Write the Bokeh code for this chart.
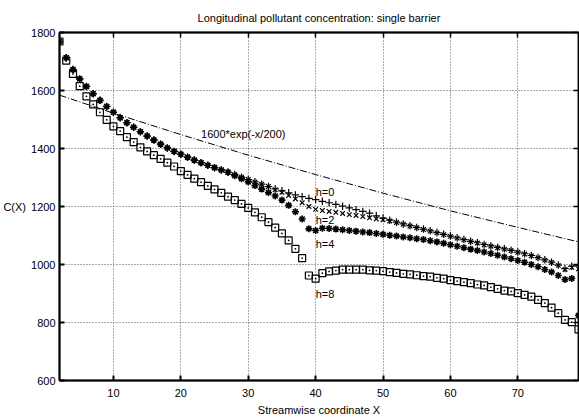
from bokeh.plotting import figure
from bokeh.models import Range1d, FixedTicker, LinearAxis, Label
from bokeh.embed import file_html
from bokeh.resources import INLINE

# ---- data -------------------------------------------------------------
xs = [2, 3, 4, 5, 6, 7, 8, 9, 10, 11, 12, 13, 14, 15, 16, 17, 18, 19, 20,
      21, 22, 23, 24, 25, 26, 27, 28, 29, 30, 31, 32, 33, 34, 35, 36, 37, 38,
      39, 40, 41, 42, 43, 44, 45, 46, 47, 48, 49, 50, 51, 52, 53, 54, 55, 56,
      57, 58, 59, 60, 61, 62, 63, 64, 65, 66, 67, 68, 69, 70, 71, 72, 73, 74,
      75, 76, 77, 78, 79]

h0 = [1769, 1713, 1672, 1640, 1614, 1589, 1566, 1545, 1525, 1506, 1489, 1473,
      1458, 1443, 1429, 1415, 1402, 1390, 1380, 1370, 1360, 1351, 1342, 1334,
      1326, 1318, 1310, 1301, 1293, 1285, 1277, 1269, 1261, 1254, 1247, 1240,
      1234, 1228, 1224, 1218, 1213, 1207, 1201, 1195, 1189, 1183, 1177, 1168,
      1160, 1153, 1146, 1140, 1134, 1128, 1122, 1116, 1110, 1104, 1098, 1092,
      1086, 1080, 1075, 1069, 1064, 1059, 1054, 1049, 1043, 1037, 1031, 1024,
      1016, 1008, 998, 986, 994, 996]

h2 = [1769, 1713, 1672, 1640, 1614, 1589, 1566, 1545, 1525, 1506, 1489, 1473,
      1458, 1443, 1429, 1415, 1402, 1390, 1380, 1370, 1360, 1351, 1342, 1334,
      1326, 1318, 1310, 1301, 1293, 1285, 1277, 1269, 1258, 1249, 1238, 1226,
      1213, 1200, 1190, 1186, 1183, 1180, 1176, 1172, 1169, 1165, 1161, 1157,
      1154, 1150, 1145, 1139, 1133, 1127, 1121, 1115, 1109, 1103, 1097, 1091,
      1085, 1079, 1074, 1068, 1063, 1058, 1053, 1048, 1042, 1036, 1030, 1023,
      1015, 1007, 997, 983, 990, 985]

h4 = [1769, 1713, 1672, 1640, 1614, 1589, 1566, 1545, 1525, 1506, 1489, 1473,
      1458, 1443, 1429, 1415, 1402, 1390, 1380, 1370, 1360, 1351, 1342, 1334,
      1326, 1318, 1306, 1296, 1285, 1272, 1260, 1248, 1236, 1222, 1204, 1182,
      1157, 1123, 1117, 1125, 1124, 1122, 1120, 1117, 1115, 1112, 1110, 1107,
      1104, 1101, 1098, 1095, 1092, 1089, 1086, 1082, 1078, 1073, 1068, 1063,
      1058, 1053, 1048, 1043, 1038, 1032, 1026, 1020, 1014, 1008, 1000, 992,
      983, 974, 962, 948, 952, 824]

h8 = [1769, 1703, 1657, 1615, 1580, 1552, 1525, 1499, 1476, 1460, 1439, 1422,
      1404, 1390, 1377, 1364, 1351, 1338, 1322, 1309, 1296, 1284, 1271, 1259,
      1247, 1234, 1222, 1209, 1195, 1180, 1163, 1146, 1127, 1107, 1083, 1054,
      1022, 962, 951, 970, 976, 979, 982, 982, 982, 982, 980, 979, 977, 974,
      971, 968, 966, 963, 960, 958, 954, 951, 946, 943, 939, 936, 931, 928,
      922, 916, 910, 907, 901, 895, 889, 878, 867, 851, 832, 809, 801, 776]

# reference curve 1600*exp(-x/200), sampled
exp_x = [2, 10, 20, 30, 40, 50, 60, 70, 79]
exp_y = [1584, 1522, 1448, 1377, 1310, 1246, 1185, 1128, 1078]

x_ticks = [10, 20, 30, 40, 50, 60, 70]
y_ticks = [600, 800, 1000, 1200, 1400, 1600, 1800]

title_text = "Longitudinal pollutant concentration: single barrier"
xlabel_text = "Streamwise coordinate X"
ylabel_text = "C(X)"
curve_labels = ["h=0", "h=2", "h=4", "h=8"]
curve_label_y = [1250, 1152, 1071, 900]
curve_label_x = 40
exp_label = "1600*exp(-x/200)"

FONT = "Liberation Sans"

# ---- figure -----------------------------------------------------------
p = figure(width=579, height=418, output_backend="svg", toolbar_location=None,
           x_range=Range1d(2, 79), y_range=Range1d(600, 1800),
           min_border_left=1, min_border_right=1, min_border_top=32,
           min_border_bottom=38, title=title_text)
p.background_fill_color = "white"
p.border_fill_color = "white"
p.outline_line_color = "black"
p.outline_line_width = 1.5

p.title.align = "center"
p.title.text_font = FONT
p.title.text_font_size = "11px"
p.title.text_font_style = "normal"
p.title.text_color = "black"
p.title.standoff = 17

for ax in (p.xaxis[0], p.yaxis[0]):
    ax.axis_line_width = 2
    ax.major_tick_in = 5
    ax.major_tick_out = 0
    ax.minor_tick_in = 0
    ax.minor_tick_out = 0
    ax.major_tick_line_width = 2
    ax.major_label_text_font = FONT
    ax.major_label_text_font_size = "11px"
    ax.major_label_text_color = "black"
    ax.axis_label_text_font = FONT
    ax.axis_label_text_font_size = "11px"
    ax.axis_label_text_font_style = "normal"
    ax.axis_label_text_color = "black"

p.xaxis.ticker = FixedTicker(ticks=x_ticks)
p.yaxis.ticker = FixedTicker(ticks=y_ticks)
p.xaxis.major_label_standoff = 8
p.yaxis.major_label_standoff = 4
p.xaxis.axis_label = xlabel_text
p.xaxis.axis_label_standoff = 4
p.yaxis.axis_label = ylabel_text
p.yaxis.axis_label_orientation = "horizontal"
p.yaxis.axis_label_standoff = 2

# mirrored ticks (no labels)
top = LinearAxis(ticker=FixedTicker(ticks=x_ticks), major_tick_in=5, major_tick_out=0,
                 minor_tick_in=0, minor_tick_out=0, major_label_text_font_size="1px",
                 major_label_text_color=None, major_label_standoff=0,
                 axis_line_width=2, major_tick_line_width=1.5)
right = LinearAxis(ticker=FixedTicker(ticks=y_ticks), major_tick_in=5, major_tick_out=0,
                   minor_tick_in=0, minor_tick_out=0, major_label_text_font_size="1px",
                   major_label_text_color=None, major_label_standoff=0,
                   axis_line_width=1.5, major_tick_line_width=1.5)
p.add_layout(top, "above")
p.add_layout(right, "right")

p.xgrid.ticker = FixedTicker(ticks=x_ticks)
p.ygrid.ticker = FixedTicker(ticks=[800, 1000, 1200, 1400, 1600])
for g in (p.xgrid[0], p.ygrid[0]):
    g.grid_line_color = "#555555"
    g.grid_line_dash = "1 2"
    g.grid_line_width = 1

# reference exponential
p.line(exp_x, exp_y, line_color="black", line_width=1, line_dash="7 2 1 2")

# series
p.scatter(xs, h8, marker="square_dot", size=7, fill_color=None,
          line_color="black", line_width=1.2)
p.scatter(xs, h4, marker="asterisk", size=7, line_color="black", line_width=1.6)
p.scatter(xs, h2, marker="x", size=6.5, line_color="black", line_width=1.2)
p.scatter(xs, h0, marker="cross", size=7.5, line_color="black", line_width=1.2)

# labels
for t, yv in zip(curve_labels, curve_label_y):
    p.add_layout(Label(x=curve_label_x, y=yv, text=t, text_font=FONT,
                       text_font_size="11px", text_baseline="middle",
                       text_align="left", text_color="black"))
p.add_layout(Label(x=23, y=1450, text=exp_label, text_font=FONT,
                   text_font_size="11px", text_baseline="middle",
                   text_align="left", text_color="black"))

open("out.html", "w").write(file_html(p, INLINE))
